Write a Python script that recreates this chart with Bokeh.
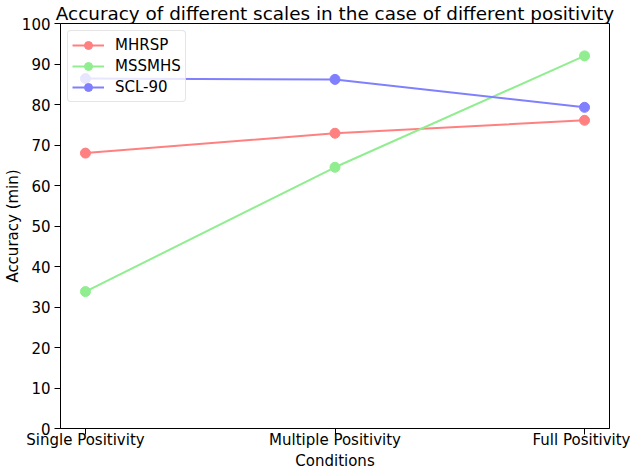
from bokeh.plotting import figure
from bokeh.models import Range1d, FixedTicker, Legend, LegendItem
from bokeh.embed import file_html
from bokeh.resources import INLINE

# Conditions along the x axis
categories = ["Single Positivity", "Multiple Positivity", "Full Positivity"]

# Accuracy per scale
mhrsp = [68.0, 72.9, 76.1]
mssmhs = [33.8, 64.5, 92.0]
scl90 = [86.4, 86.2, 79.3]

series_names = ["MHRSP", "MSSMHS", "SCL-90"]
series_values = [mhrsp, mssmhs, scl90]
series_colors = ["#ff8080", "#90ee90", "#8080ff"]

y_ticks = list(range(0, 101, 10))

FONT = "DejaVu Sans"

xs = list(range(len(categories)))

p = figure(
    width=630, height=472,
    output_backend="svg", toolbar_location=None,
    x_range=Range1d(-0.1, len(categories) - 0.9),
    y_range=Range1d(0, 100),
    title="Accuracy of different scales in the case of different positivity",
    min_border_left=60, min_border_right=21, min_border_bottom=40, min_border_top=0,
)

p.title.text_font = FONT
p.title.text_font_size = "18.4px"
p.title.text_font_style = "normal"
p.title.align = "center"
p.title.text_color = "black"
p.title.standoff = 0

p.grid.visible = False
p.outline_line_color = "black"
p.outline_line_width = 1
p.outline_line_alpha = 1

for ax in (p.xaxis[0], p.yaxis[0]):
    ax.axis_line_color = "black"
    ax.major_tick_line_color = "black"
    ax.major_tick_out = 6
    ax.major_tick_in = 0
    ax.minor_tick_line_color = None
    ax.major_label_text_font = FONT
    ax.major_label_text_font_size = "15px"
    ax.major_label_text_color = "black"
    ax.axis_label_text_font = FONT
    ax.axis_label_text_font_size = "15px"
    ax.axis_label_text_font_style = "normal"
    ax.axis_label_text_color = "black"

p.xaxis.ticker = FixedTicker(ticks=xs)
p.xaxis.major_label_overrides = {i: c for i, c in enumerate(categories)}
p.xaxis.axis_label = "Conditions"
p.xaxis.major_label_standoff = -4
p.xaxis.axis_label_standoff = 0

p.yaxis.ticker = FixedTicker(ticks=y_ticks)
p.yaxis.axis_label = "Accuracy (min)"
p.yaxis.major_label_standoff = 4
p.yaxis.axis_label_standoff = -3

items = []
for name, vals, col in zip(series_names, series_values, series_colors):
    r1 = p.line(xs, vals, line_color=col, line_width=2)
    r2 = p.scatter(xs, vals, size=10, fill_color=col, line_color=col)
    items.append(LegendItem(label=name, renderers=[r1, r2]))

legend = Legend(
    items=items, location="top_left",
    margin=7, padding=4, spacing=1,
    glyph_width=32, glyph_height=20,
    label_text_font=FONT, label_text_font_size="15px",
    label_text_color="black",
    label_standoff=11,
    border_line_color="#cccccc", border_line_width=1,
    border_radius=4,
    background_fill_color="white", background_fill_alpha=0.8,
)
p.add_layout(legend)

open("out.html", "w").write(file_html(p, INLINE))
